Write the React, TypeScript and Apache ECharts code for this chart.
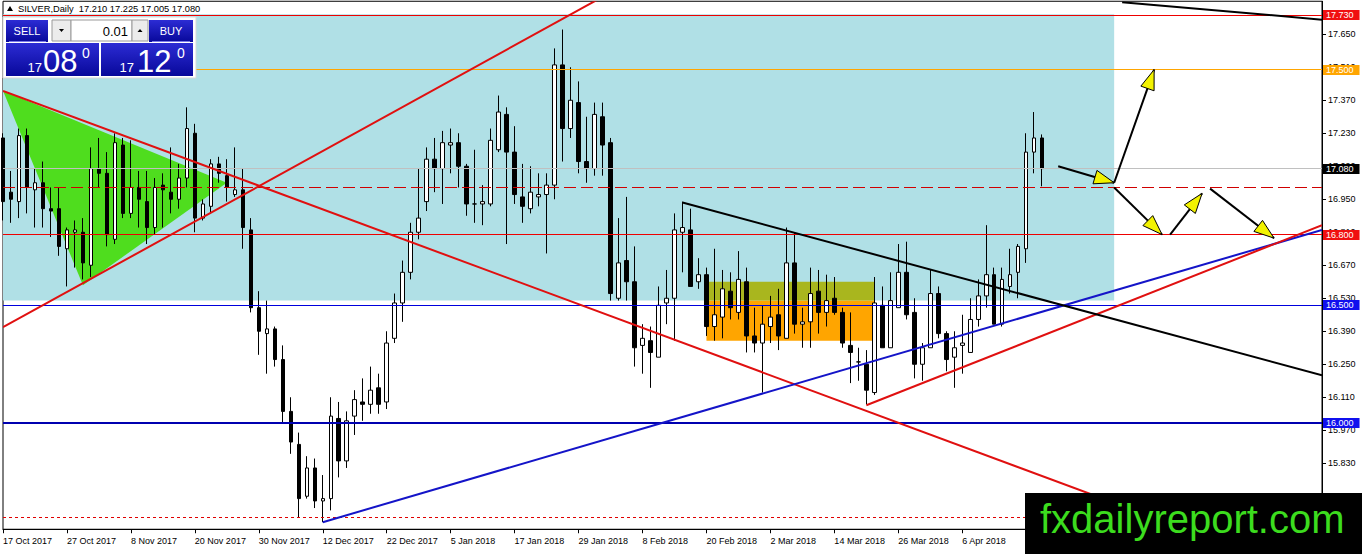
import React, { useEffect, useRef } from "react";
import * as echarts from "echarts";

// ---------- data ----------
const dateLabels = [
  "17 Oct 2017", "27 Oct 2017", "8 Nov 2017", "20 Nov 2017", "30 Nov 2017",
  "12 Dec 2017", "22 Dec 2017", "5 Jan 2018", "17 Jan 2018", "29 Jan 2018",
  "8 Feb 2018", "20 Feb 2018", "2 Mar 2018", "14 Mar 2018", "26 Mar 2018", "6 Apr 2018",
];
const barsPerLabel = 8;
const slotCount = 166;

const opens = [
  17.21, 16.98, 16.94, 17.22, 16.99, 17.02, 16.91, 16.91, 16.74, 16.81,
  16.81, 16.67, 17.08, 17.06, 16.78, 17.18, 16.89, 17.0, 16.94, 16.83,
  17.01, 16.98, 16.95, 17.04, 17.23, 16.87, 16.92, 17.1, 17.05, 16.97,
  16.99, 16.82, 16.49, 16.38, 16.4, 16.27, 16.05, 15.91, 15.69, 15.81,
  15.67, 15.68, 16.02, 15.84, 16.03, 16.09, 16.08, 16.15, 16.09, 16.36,
  16.51, 16.64, 16.81, 16.94, 17.12, 17.08, 17.18, 17.19, 17.09, 16.93,
  16.93, 16.93, 17.16, 17.31, 17.15, 16.96, 16.91, 16.96, 16.97, 17.01,
  17.52, 17.25, 17.36, 17.11, 17.08, 17.3, 17.19, 16.53, 16.69, 16.6,
  16.33, 16.35, 16.28, 16.51, 16.53, 16.81, 16.82, 16.6, 16.63, 16.41,
  16.45, 16.56, 16.47, 16.6, 16.37, 16.34, 16.41, 16.46, 16.36, 16.68,
  16.42, 16.43, 16.56, 16.47, 16.53, 16.47, 16.33, 16.26, 16.25, 16.13,
  16.5, 16.32, 16.49, 16.64, 16.47, 16.25, 16.32, 16.55, 16.38, 16.28,
  16.33, 16.3, 16.44, 16.54, 16.63, 16.42, 16.58, 16.64, 16.74, 17.15,
  17.21,
];
const closes = [
  16.94, 16.95, 17.22, 17.0, 17.02, 16.91, 16.9, 16.75, 16.82, 16.82,
  16.68, 17.08, 17.06, 16.8, 17.19, 16.89, 17.0, 16.95, 16.83, 17.0,
  16.99, 16.95, 17.04, 17.25, 16.87, 16.93, 17.1, 17.06, 17.0, 16.99,
  16.83, 16.49, 16.39, 16.4, 16.27, 16.05, 15.92, 15.68, 15.81, 15.67,
  15.68, 16.03, 15.84, 16.01, 16.1, 16.08, 16.14, 16.08, 16.34, 16.51,
  16.64, 16.81, 16.87, 17.12, 17.08, 17.19, 17.19, 17.09, 16.93, 16.93,
  16.94, 17.2, 17.32, 17.15, 16.97, 16.92, 16.98, 16.97, 17.01, 17.52,
  17.25, 17.37, 17.11, 17.08, 17.31, 17.18, 16.55, 16.68, 16.6, 16.32,
  16.36, 16.3, 16.5, 16.53, 16.82, 16.83, 16.58, 16.63, 16.41, 16.46,
  16.57, 16.49, 16.61, 16.37, 16.34, 16.42, 16.45, 16.37, 16.68, 16.42,
  16.43, 16.55, 16.47, 16.52, 16.47, 16.34, 16.3, 16.26, 16.14, 16.51,
  16.32, 16.52, 16.64, 16.46, 16.25, 16.32, 16.55, 16.38, 16.27, 16.32,
  16.34, 16.44, 16.54, 16.63, 16.42, 16.61, 16.63, 16.75, 17.15, 17.21,
  17.08,
];
const lows = [
  16.86, 16.85, 16.87, 16.89, 16.83, 16.83, 16.79, 16.71, 16.58, 16.66,
  16.61, 16.62, 17.0, 16.75, 16.76, 16.87, 16.87, 16.83, 16.76, 16.8,
  16.83, 16.89, 16.91, 17.0, 16.81, 16.86, 16.89, 17.02, 16.94, 16.96,
  16.74, 16.47, 16.29, 16.21, 16.24, 16.0, 15.87, 15.6, 15.68, 15.64,
  15.58, 15.63, 15.77, 15.81, 15.95, 16.01, 16.04, 16.04, 16.06, 16.34,
  16.43, 16.61, 16.78, 16.9, 16.98, 16.93, 17.06, 17.0, 16.88, 16.85,
  16.84, 16.92, 17.15, 16.76, 16.93, 16.85, 16.89, 16.92, 16.72, 16.95,
  17.11, 17.21, 17.06, 17.02, 17.05, 17.05, 16.52, 16.52, 16.52, 16.24,
  16.21, 16.15, 16.28, 16.42, 16.35, 16.64, 16.58, 16.57, 16.37, 16.35,
  16.36, 16.44, 16.44, 16.3, 16.3, 16.13, 16.34, 16.31, 16.36, 16.38,
  16.32, 16.32, 16.38, 16.41, 16.46, 16.32, 16.17, 16.18, 16.08, 16.12,
  16.32, 16.32, 16.49, 16.44, 16.19, 16.18, 16.32, 16.36, 16.22, 16.15,
  16.21, 16.3, 16.41, 16.49, 16.42, 16.41, 16.55, 16.53, 16.68, 17.06,
  17.005,
];
const highs = [
  17.23, 17.07, 17.25, 17.25, 17.08, 17.11, 17.0, 17.0, 16.83, 16.86,
  16.87, 17.17, 17.21, 17.15, 17.23, 17.21, 17.2, 17.07, 17.07, 17.04,
  17.06, 17.17, 17.1, 17.34, 17.27, 16.95, 17.12, 17.13, 17.12, 17.17,
  17.08, 16.87, 16.56, 16.52, 16.41, 16.33, 16.11, 15.96, 15.86, 15.85,
  15.78, 16.11, 16.09, 16.05, 16.14, 16.19, 16.24, 16.21, 16.39, 16.55,
  16.69, 16.85, 17.08, 17.17, 17.21, 17.24, 17.25, 17.23, 17.1, 17.16,
  17.01, 17.25, 17.39, 17.34, 17.26, 17.1, 17.09, 17.06, 17.06, 17.59,
  17.67, 17.51, 17.45, 17.3, 17.36, 17.36, 17.21, 16.87, 16.96, 16.75,
  16.42, 16.41, 16.58, 16.65, 16.89, 16.94, 16.91, 16.7, 16.66, 16.74,
  16.65, 16.64, 16.73, 16.66, 16.49, 16.5, 16.54, 16.57, 16.83, 16.81,
  16.49, 16.66, 16.65, 16.63, 16.62, 16.49, 16.47, 16.32, 16.31, 16.62,
  16.58, 16.64, 16.76, 16.77, 16.53, 16.34, 16.65, 16.58, 16.39, 16.39,
  16.46, 16.53, 16.61, 16.84, 16.66, 16.66, 16.74, 16.76, 17.23, 17.32,
  17.225,
];

// horizontal price levels
const levelValues = [17.73, 17.5, 17.08, 17.0, 16.8, 16.5, 16.0, 15.6];
const levelHasLabel = [true, true, true, false, true, true, true, false];

// zones: [fromBar, toBar, lowPrice, highPrice]
const zones = [
  [-2, 139, 16.52, 17.735],
  [88, 109, 16.35, 16.52],
  [88, 109, 16.52, 16.6],
];

// triangle vertices
const triangleBars = [0, 28, 10];
const trianglePrices = [17.41, 17.02, 16.585];

// trend lines: [bar0, price0, bar1, price1]
const trendLines = [
  [0, 17.41, 145, 15.587],
  [0, 16.407, 80, 17.902],
  [40, 15.58, 165, 16.82],
  [108, 16.076, 165, 16.84],
  [85, 16.936, 165, 16.203],
  [140, 17.786, 165, 17.712],
];

// arrows: [bar0, price0, bar1, price1]
const arrows = [
  [132, 17.09, 138.5, 17.02],
  [138.5, 17.02, 143.7, 17.5],
  [138.8, 17.0, 145.4, 16.8],
  [145.5, 16.8, 150.4, 16.975],
  [150.8, 16.995, 158.6, 16.785],
];

const bidPrice = 17.08;
const askPrice = 17.12;
const lotSize = "0.01";
const symbolTitle = "SILVER,Daily";
const logoText = "fxdailyreport.com";

// ---------- styles ----------
const FONT = "'Liberation Sans', Arial, sans-serif";
const zoneColors = ["#B0E0E6", "#FFA500", "#A9B61E"];
const trendColors = ["#e01010", "#e01010", "#1414c8", "#e01010", "#000000", "#000000"];
const levelStyles = [
  { color: "#ee0000", width: 1, dash: null, label: "#f01010" },
  { color: "#FFA500", width: 1, dash: null, label: "#FFA500" },
  { color: "#c0c0c0", width: 1, dash: null, label: "#000000" },
  { color: "#d00000", width: 1, dash: [12, 5], label: null },
  { color: "#ee0000", width: 1, dash: null, label: "#f01010" },
  { color: "#0000dd", width: 1, dash: null, label: "#1010ee" },
  { color: "#0000b0", width: 2, dash: null, label: "#1010ee" },
  { color: "#e00000", width: 1, dash: [3, 3], label: null },
];

function priceParts(p: number) {
  const s = p.toFixed(3); // 17.080
  return { big: s.slice(0, 2), mid: s.slice(3, 5), sup: s.slice(5) };
}

export default function App() {
  const ref = useRef<HTMLDivElement>(null);

  useEffect(() => {
    if (!ref.current) return;
    const chart = echarts.init(ref.current, null, { renderer: "svg" });

    const categories = Array.from({ length: slotCount }, (_, i) =>
      i % barsPerLabel === 0 && i / barsPerLabel < dateLabels.length ? dateLabels[i / barsPerLabel] : ""
    );
    const showTick = (i: number) => i % barsPerLabel === 0 && i / barsPerLabel < dateLabels.length;

    const candleData = opens.map((o, i) => [o, closes[i], lows[i], highs[i]]);
    const levelData = levelValues.map((v) => [0, v, slotCount - 1, v]);

    const bid = priceParts(bidPrice);
    const ask = priceParts(askPrice);
    const last = opens.length - 1;
    const header = `${symbolTitle}  ${opens[last].toFixed(3)} ${highs[last].toFixed(3)} ${lows[last].toFixed(3)} ${closes[last].toFixed(3)}`;

    const blueGrad = () =>
      new echarts.graphic.LinearGradient(0, 0, 0, 1, [
        { offset: 0, color: "#2c2cd4" },
        { offset: 1, color: "#08089a" },
      ]);

    const option: any = {
      animation: false,
      backgroundColor: "#ffffff",
      grid: { left: 3, right: 40, top: 1.25, bottom: 24.75, show: true, borderColor: "#000", borderWidth: 1, backgroundColor: "transparent" },
      xAxis: {
        type: "category",
        data: categories,
        boundaryGap: false,
        axisLine: { lineStyle: { color: "#000", width: 1 } },
        axisTick: { show: true, interval: (i: number) => showTick(i), length: 4, lineStyle: { color: "#000" } },
        axisLabel: {
          interval: (i: number) => showTick(i),
          align: "left",
          color: "#000",
          fontSize: 9,
          fontFamily: FONT,
          margin: 7,
        },
        splitLine: { show: false },
      },
      yAxis: {
        type: "value",
        position: "right",
        min: 15.55,
        max: 17.79,
        interval: 0.14,
        scale: true,
        axisLine: { show: true, lineStyle: { color: "#000", width: 1 } },
        axisTick: { show: true, length: 4, lineStyle: { color: "#000" } },
        axisLabel: {
          color: "#000",
          fontSize: 9,
          fontFamily: FONT,
          margin: 6,
          showMinLabel: false,
          showMaxLabel: false,
          formatter: (v: number) => v.toFixed(3),
        },
        splitLine: { show: false },
      },
      series: [
        {
          type: "custom",
          name: "zones",
          z: 1,
          clip: true,
          silent: true,
          data: zones,
          encode: { x: [0, 1], y: [2, 3] },
          renderItem: (params: any, api: any) => {
            const p0 = api.coord([api.value(0), api.value(3)]);
            const p1 = api.coord([api.value(1), api.value(2)]);
            return {
              type: "rect",
              shape: { x: p0[0], y: p0[1], width: p1[0] - p0[0], height: p1[1] - p0[1] },
              style: { fill: zoneColors[params.dataIndex] },
            };
          },
        },
        {
          type: "custom",
          name: "triangle",
          z: 1,
          clip: true,
          silent: true,
          data: [[triangleBars[0], trianglePrices[0]]],
          encode: { x: 0, y: 1 },
          renderItem: (_p: any, api: any) => ({
            type: "polygon",
            shape: { points: triangleBars.map((b, k) => api.coord([b, trianglePrices[k]])) },
            style: { fill: "#4fdd1e" },
          }),
        },
        {
          type: "candlestick",
          name: "SILVER",
          z: 3,
          clip: true,
          barWidth: 4,
          data: candleData,
          itemStyle: {
            color: "#ffffff",
            color0: "#000000",
            borderColor: "#000000",
            borderColor0: "#000000",
            borderWidth: 1,
          },
        },
        {
          type: "custom",
          name: "levels",
          z: 4,
          clip: false,
          silent: true,
          data: levelData,
          encode: { x: [0, 2], y: [1, 3] },
          renderItem: (params: any, api: any) => {
            const i = params.dataIndex;
            const s = levelStyles[i];
            const cs = params.coordSys;
            const raw = api.coord([0, api.value(1)])[1];
            const y = s.width % 2 === 1 ? Math.floor(raw) + 0.5 : Math.round(raw);
            const children: any[] = [
              {
                type: "line",
                shape: { x1: cs.x, y1: y, x2: cs.x + cs.width, y2: y },
                style: { stroke: s.color, lineWidth: s.width, lineDash: s.dash || undefined },
              },
            ];
            if (levelHasLabel[i] && s.label) {
              children.push({
                type: "text",
                x: cs.x + cs.width + 1,
                y: Math.round(raw),
                style: {
                  text: levelValues[i].toFixed(3),
                  fill: "#fff",
                  backgroundColor: s.label,
                  font: `9px ${FONT}`,
                  padding: [1, 6, 0, 3],
                  verticalAlign: "middle",
                  align: "left",
                },
              });
            }
            return { type: "group", children };
          },
        },
        {
          type: "custom",
          name: "trend",
          z: 5,
          clip: true,
          silent: true,
          data: trendLines,
          encode: { x: [0, 2], y: [1, 3] },
          renderItem: (params: any, api: any) => {
            const a = api.coord([api.value(0), api.value(1)]);
            const b = api.coord([api.value(2), api.value(3)]);
            return {
              type: "line",
              shape: { x1: a[0], y1: a[1], x2: b[0], y2: b[1] },
              style: { stroke: trendColors[params.dataIndex], lineWidth: 2 },
            };
          },
        },
        {
          type: "custom",
          name: "arrows",
          z: 6,
          clip: false,
          silent: true,
          data: arrows,
          encode: { x: [0, 2], y: [1, 3] },
          renderItem: (_params: any, api: any) => {
            const a = api.coord([api.value(0), api.value(1)]);
            const b = api.coord([api.value(2), api.value(3)]);
            const dx = b[0] - a[0];
            const dy = b[1] - a[1];
            const len = Math.sqrt(dx * dx + dy * dy) || 1;
            const ux = dx / len;
            const uy = dy / len;
            const L = 20;
            const W = 7;
            const bx = b[0] - ux * L;
            const by = b[1] - uy * L;
            return {
              type: "group",
              children: [
                { type: "line", shape: { x1: a[0], y1: a[1], x2: b[0], y2: b[1] }, style: { stroke: "#000", lineWidth: 2 } },
                {
                  type: "polygon",
                  shape: { points: [[b[0], b[1]], [bx - uy * W, by + ux * W], [bx + uy * W, by - ux * W]] },
                  style: { fill: "#f2f200", stroke: "#000", lineWidth: 1 },
                },
              ],
            };
          },
        },
      ],
      graphic: [
        // header
        { type: "polygon", z: 100, shape: { points: [[7, 11], [10, 6], [13, 11]] }, style: { fill: "#000" } },
        { type: "text", z: 100, x: 18, y: 9, style: { text: header, fill: "#000", font: `9.3px ${FONT}`, verticalAlign: "middle" } },
        // panel
        { type: "rect", z: 100, shape: { x: 3, y: 17, width: 193, height: 61 }, style: { fill: "#ffffff", stroke: "#d8d8d8", lineWidth: 1 } },
        { type: "rect", z: 101, shape: { x: 6, y: 20, width: 42, height: 22 }, style: { fill: blueGrad() } },
        { type: "line", z: 102, shape: { x1: 9, y1: 41.5, x2: 46, y2: 41.5 }, style: { stroke: "#7a7ae8", lineWidth: 1 } },
        { type: "text", z: 102, x: 27, y: 31, style: { text: "SELL", fill: "#fff", font: `11px ${FONT}`, align: "center", verticalAlign: "middle" } },
        { type: "rect", z: 101, shape: { x: 52, y: 20, width: 19, height: 21 }, style: { fill: "#ececec", stroke: "#9a9a9a", lineWidth: 1 } },
        { type: "polygon", z: 102, shape: { points: [[59, 29], [64, 29], [61.5, 32]] }, style: { fill: "#000" } },
        { type: "rect", z: 101, shape: { x: 71, y: 20, width: 61, height: 21 }, style: { fill: "#ffffff", stroke: "#9a9a9a", lineWidth: 1 } },
        { type: "text", z: 102, x: 128, y: 31, style: { text: lotSize, fill: "#000", font: `13px ${FONT}`, align: "right", verticalAlign: "middle" } },
        { type: "rect", z: 101, shape: { x: 132, y: 20, width: 16, height: 21 }, style: { fill: "#ececec", stroke: "#9a9a9a", lineWidth: 1 } },
        { type: "polygon", z: 102, shape: { points: [[137.5, 32], [142.5, 32], [140, 29]] }, style: { fill: "#000" } },
        { type: "rect", z: 101, shape: { x: 149, y: 20, width: 44, height: 22 }, style: { fill: blueGrad() } },
        { type: "line", z: 102, shape: { x1: 152, y1: 41.5, x2: 190, y2: 41.5 }, style: { stroke: "#7a7ae8", lineWidth: 1 } },
        { type: "text", z: 102, x: 171, y: 31, style: { text: "BUY", fill: "#fff", font: `11px ${FONT}`, align: "center", verticalAlign: "middle" } },
        { type: "rect", z: 101, shape: { x: 6, y: 43, width: 93, height: 33 }, style: { fill: blueGrad() } },
        { type: "rect", z: 101, shape: { x: 101, y: 43, width: 92, height: 33 }, style: { fill: blueGrad() } },
        { type: "text", z: 102, x: 42, y: 67, style: { text: bid.big, fill: "#fff", font: `13px ${FONT}`, align: "right", verticalAlign: "middle" } },
        { type: "text", z: 102, x: 43, y: 61, style: { text: bid.mid, fill: "#fff", font: `31px ${FONT}`, align: "left", verticalAlign: "middle" } },
        { type: "text", z: 102, x: 82, y: 53, style: { text: bid.sup, fill: "#fff", font: `14px ${FONT}`, align: "left", verticalAlign: "middle" } },
        { type: "text", z: 102, x: 134, y: 67, style: { text: ask.big, fill: "#fff", font: `13px ${FONT}`, align: "right", verticalAlign: "middle" } },
        { type: "text", z: 102, x: 137, y: 61, style: { text: ask.mid, fill: "#fff", font: `31px ${FONT}`, align: "left", verticalAlign: "middle" } },
        { type: "text", z: 102, x: 177, y: 53, style: { text: ask.sup, fill: "#fff", font: `14px ${FONT}`, align: "left", verticalAlign: "middle" } },
        // logo
        { type: "rect", z: 110, shape: { x: 1025, y: 493, width: 337, height: 61 }, style: { fill: "#000" } },
        { type: "text", z: 111, x: 1040, y: 519, style: { text: logoText, fill: "#3cdc1e", font: `40px ${FONT}`, align: "left", verticalAlign: "middle" } },
      ],
    };

    chart.setOption(option);
    return () => chart.dispose();
  }, []);

  return (
    <div
      ref={ref}
      style={{ position: "fixed", left: 0, top: 0, width: 1362, height: 554, background: "#fff" }}
    />
  );
}
